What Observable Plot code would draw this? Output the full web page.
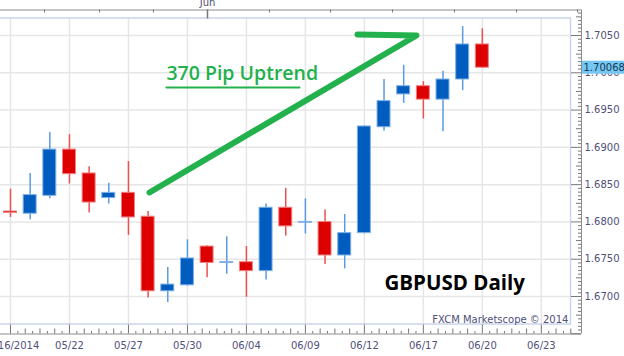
<!DOCTYPE html>
<html><head><meta charset="utf-8">
<script src="https://cdn.jsdelivr.net/npm/d3@7"></script>
<script src="https://cdn.jsdelivr.net/npm/@observablehq/plot@0.6"></script>
<style>
html,body{margin:0;padding:0;background:#fff;}
#chart{width:624px;height:356px;overflow:hidden;}
#chart svg{display:block;background:#fff;}
</style></head><body><div id="chart"></div>
<script>
// ---- data (GBPUSD daily candles) ----
const openP  = [1.6814,1.6811,1.6835,1.6897,1.6865,1.6832,1.6839,1.6807,1.6707,1.6715,1.6767,1.6745,1.6746,1.6734,1.6819,1.6799,1.6800,1.6755,1.6785,1.6927,1.6971,1.6982,1.6964,1.6991,1.7038];
const highP  = [1.6844,1.6865,1.6920,1.6917,1.6874,1.6852,1.6881,1.6814,1.6739,1.6776,1.6768,1.6780,1.6767,1.6824,1.6845,1.6831,1.6816,1.6810,1.6929,1.6991,1.7010,1.6988,1.7002,1.7062,1.7059];
const lowP   = [1.6806,1.6803,1.6831,1.6851,1.6812,1.6824,1.6782,1.6698,1.6692,1.6714,1.6725,1.6730,1.6699,1.6722,1.6781,1.6784,1.6743,1.6737,1.6784,1.6922,1.6959,1.6938,1.6921,1.6976,1.7006];
const closeP = [1.6812,1.6836,1.6897,1.6864,1.6826,1.6839,1.6806,1.6707,1.6716,1.6751,1.6745,1.6746,1.6734,1.6819,1.6794,1.6800,1.6755,1.6785,1.6928,1.6962,1.6982,1.6964,1.6991,1.7038,1.70068];

const dateTickIdx = [0,3,6,9,12,15,18,21,24,27];
const dateLabels  = ["05/16/2014","05/22","05/27","05/30","06/04","06/09","06/12","06/17","06/20","06/23"];
const priceTicks  = [1.6700,1.6750,1.6800,1.6850,1.6900,1.6950,1.7000,1.7050];
const priceLabels = ["1.6700","1.6750","1.6800","1.6850","1.6900","1.6950","1.7000","1.7050"];
const topTickIdx  = [1.73,4.53,7.27,10.02,13.17,16.28,19.43,22.58,25.74,28.84];
const monthLabel  = "Jun";
const monthAt     = 10.02;
const lastPrice   = 1.70068;
const lastLabel   = "1.70068";

const trendLine   = [{i:17.65,p:1.70513},{i:20.65,p:1.7050},{i:7.07,p:1.68395}];
const underline   = [{i:7.93,p:1.69803},{i:14.70,p:1.69803}];
const trendText   = "370 Pip Uptrend";
const trendTextAt = {i:7.93,p:1.69990};
const titleText   = "GBPUSD Daily";
const titleAt     = {i:19.02,p:1.67174};
const creditText  = "FXCM Marketscope \u00a9 2014";
const creditAt    = {i:28.38,p:1.66692};

// ---- layout ----
const xDomain = [-0.5086, 29.044];   // index units, right end = axis line
const yDomain = [1.664971, 1.70842];
const xRange = [0, 581], yRange = [333.5, 9.5];
const iPerPx = (xDomain[1]-xDomain[0])/(xRange[1]-xRange[0]);
const pPerPx = (yDomain[1]-yDomain[0])/(yRange[0]-yRange[1]);
const axisI = xDomain[1], bottomP = yDomain[0], topP = yDomain[1];
const frameRightI = axisI - 10.5*iPerPx;
const frameTopP = topP - 8.5*pPerPx, frameBottomP = bottomP + 9.5*pPerPx;

const candles = openP.map((o,k)=>({i:k, open:o, high:highP[k], low:lowP[k], close:closeP[k], up: closeP[k]>=o}));
const half = 0.33;

const font = "DejaVu Sans, Verdana, sans-serif";
const axisColor = "#50507a";

// tick helpers (pixel lengths)
const bottomMinor = d3.range(0, 28.5+1e-9, 0.375).map((v,k)=>({i:v, len: k%8===0 ? 9 : (k%2===0 ? 5 : 2.5)}));
const rightMinor = d3.range(1.6650, 1.7085, 0.0005).map(v=>+v.toFixed(4)).map(v=>{
  const m = Math.round(v*10000);
  return {p:v, len: m%50===0 ? 10 : (m%25===0 ? 5 : 3)};
});

const chart = Plot.plot({
  width: 624, height: 356,
  marginLeft:0, marginRight:0, marginTop:0, marginBottom:0,
  x: {type:"linear", domain:xDomain, range:xRange, axis:null},
  y: {type:"linear", domain:yDomain, range:yRange, axis:null},
  style: {background:"#fff", overflow:"hidden"},
  marks: [
    // grid
    Plot.ruleY(priceTicks, {y:d=>d, x1:-1, x2:frameRightI, stroke:"#e6e6e6", strokeWidth:1.5}),
    Plot.ruleX(dateTickIdx, {x:d=>d, y1:frameBottomP, y2:frameTopP, stroke:"#e6e6e6", strokeWidth:1.5}),
    // inner frame
    Plot.rect([0], {x1:-1, x2:frameRightI, y1:frameBottomP, y2:frameTopP, fill:"none", stroke:"#c9d5e8", strokeWidth:1.5}),
    // outer axis lines
    Plot.ruleY([topP], {y:d=>d, x1:-1, x2:axisI, stroke:"#8c8c8c", strokeWidth:1}),
    Plot.ruleY([bottomP], {y:d=>d, x1:-1, x2:axisI, stroke:"#8c8c8c", strokeWidth:1}),
    Plot.ruleX([axisI], {x:d=>d, y1:bottomP, y2:topP, stroke:"#8c8c8c", strokeWidth:1}),
    // bottom ticks
    Plot.ruleX(bottomMinor, {x:"i", y1:bottomP, y2:d=>bottomP + d.len*pPerPx, stroke:"#777", strokeWidth:1}),
    // top ticks
    Plot.ruleX(topTickIdx, {x:d=>d, y1:topP, y2:d=>topP - (d===monthAt ? 9 : 3)*pPerPx, stroke:"#777", strokeWidth:d=>d===monthAt?1.5:1}),
    // right ticks
    Plot.ruleY(rightMinor, {y:"p", x1:d=>axisI - d.len*iPerPx, x2:axisI, stroke:"#777", strokeWidth:1}),
    // labels
    Plot.text(dateTickIdx, {x:d=>d, y:bottomP, dy:11.5, text:(d,k)=>dateLabels[k], fontFamily:font, fontSize:10, fill:axisColor}),
    Plot.text(priceTicks, {x:axisI, y:d=>d, dx:3, text:(d,k)=>priceLabels[k], textAnchor:"start", fontFamily:font, fontSize:10, fill:axisColor}),
    Plot.text([monthAt], {x:d=>d, y:topP, dy:-7, text:[monthLabel], fontFamily:font, fontSize:10, fill:axisColor}),
    // last price box
    Plot.rect([lastPrice], {x1:axisI + 1*iPerPx, x2:axisI + 50*iPerPx, y1:d=>d - 6.5*pPerPx, y2:d=>d + 6.5*pPerPx, fill:"#72c7f3"}),
    Plot.text([lastPrice], {x:axisI, y:d=>d, dx:2, text:[lastLabel], textAnchor:"start", fontFamily:font, fontSize:10, fill:"#1a3550"}),
    // candles
    Plot.ruleX(candles, {x:"i", y1:"low", y2:"high", stroke:d=>d.up?"#5b9be2":"#ee5050", strokeWidth:1.5}),
    Plot.rect(candles, {x1:d=>d.i-half, x2:d=>d.i+half, y1:"open", y2:"close", fill:d=>d.up?"#005cbf":"#dd0000", stroke:d=>d.up?"#7eb0e6":"#f08080", strokeWidth:1}),
    // annotations
    Plot.line(trendLine, {x:"i", y:"p", stroke:"#22b14c", strokeWidth:6, strokeLinecap:"round", strokeLinejoin:"round"}),
    Plot.line(underline, {x:"i", y:"p", stroke:"#22b14c", strokeWidth:2}),
    Plot.text([trendTextAt], {x:"i", y:"p", text:[trendText], textAnchor:"start", fontFamily:"Open Sans, sans-serif", fontWeight:600, fontSize:19.5, fill:"#22b14c"}),
    Plot.text([titleAt], {x:"i", y:"p", text:[titleText], textAnchor:"start", fontFamily:"Open Sans, sans-serif", fontWeight:700, fontSize:20.5, fill:"#000"}),
    Plot.text([creditAt], {x:"i", y:"p", text:[creditText], textAnchor:"end", fontFamily:font, fontSize:10, fill:"#50507a"})
  ]
});
document.getElementById("chart").appendChild(chart);
</script>
</body></html>
